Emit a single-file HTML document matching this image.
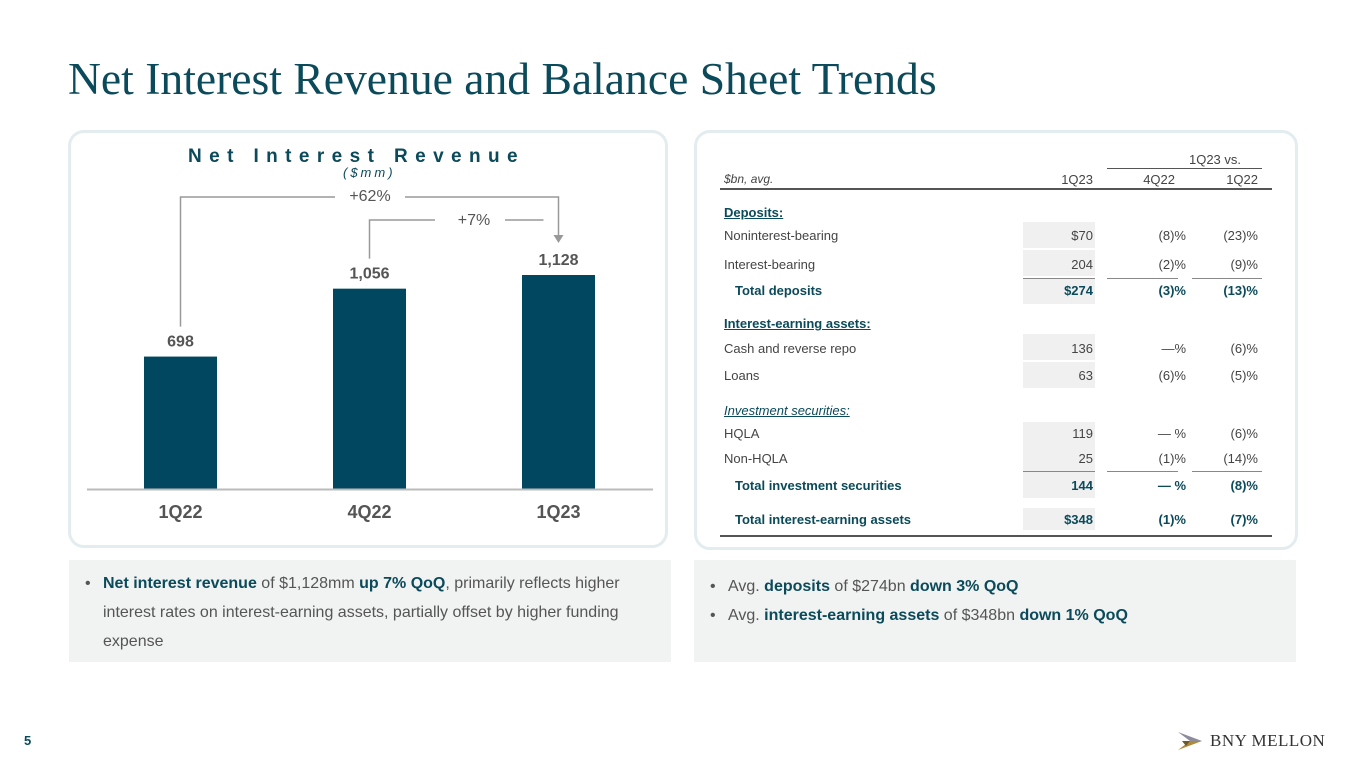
<!DOCTYPE html>
<html><head><meta charset="utf-8"><style>
body{margin:0;width:1365px;height:768px;background:#fff;position:relative;overflow:hidden;font-family:"Liberation Sans",sans-serif}
.a{position:absolute}
.t{position:absolute;font-size:13px;color:#444;white-space:nowrap}
.r{text-align:right}
.b{font-weight:bold;color:#0b4a5a}
.u{text-decoration:underline;color:#0b4a5a;font-weight:bold}
.sh{position:absolute;left:1023px;width:72px;height:26px;background:#f0f0f0}
.ln{position:absolute;height:1px;background:#888}
</style></head><body>
<div class="a" style="left:68px;top:52px;font-family:'Liberation Serif',serif;font-size:45.6px;color:#0b4a5a;white-space:nowrap">Net Interest Revenue and Balance Sheet Trends</div>
<div class="a" style="left:68px;top:130px;width:600px;height:418px;border:3px solid #e3ecee;border-radius:16px;box-sizing:border-box"></div>
<div class="a" style="left:694px;top:130px;width:604px;height:420px;border:3px solid #e3ecee;border-radius:16px;box-sizing:border-box"></div>
<div class="a" style="left:188px;top:146px;font-size:19px;font-weight:bold;letter-spacing:7.4px;color:#0b4a5a;white-space:nowrap">Net Interest Revenue</div>
<div class="a" style="left:343px;top:165px;font-size:13px;font-style:italic;letter-spacing:3px;color:#0b4a5a">($mm)</div>
<svg class="a" style="left:0;top:0" width="700" height="560" id="chart"></svg>
<script>
const categories=["1Q22","4Q22","1Q23"];
const values=[698,1056,1128];
const labels=["698","1,056","1,128"];
const svg=document.getElementById('chart');const NS="http://www.w3.org/2000/svg";
const base=489,scale=214/1128;
const y=v=>base-v*scale;const x=i=>144+i*189;
function mk(t,a,txt){const e=document.createElementNS(NS,t);for(const k in a)e.setAttribute(k,a[k]);if(txt)e.textContent=txt;svg.appendChild(e);return e;}
categories.forEach((c,i)=>{
 const r=mk('rect',{x:x(i),y:y(values[i]),width:73,height:values[i]*scale,fill:'#00475f'});
 
 
 const l=mk('text',{x:x(i)+36.5,y:y(values[i])-10,'text-anchor':'middle','font-size':16,'font-weight':'bold',fill:'#555'},labels[i]);
 
 
 const cl=mk('text',{x:x(i)+36.5,y:518,'text-anchor':'middle','font-size':18,'font-weight':'bold',fill:'#555'},c);
 
 
});
const ax=mk('line',{x1:87,x2:653,y1:489.5,y2:489.5,stroke:'#bbb','stroke-width':2});


const c1=x(0)+36.5,c2=x(1)+36.5,c3=x(2)+36.5;
mk('polyline',{points:`${c1},${y(values[0])-30} ${c1},197 335,197`,fill:'none',stroke:'#999','stroke-width':1.5});
mk('polyline',{points:`405,197 ${c3},197 ${c3},${y(values[2])-40}`,fill:'none',stroke:'#999','stroke-width':1.5});
mk('polygon',{points:`${c3-5},${y(values[2])-40} ${c3+5},${y(values[2])-40} ${c3},${y(values[2])-32}`,fill:'#999'});
mk('text',{x:370,y:201,'text-anchor':'middle','font-size':16,fill:'#555'},'+62%');
mk('polyline',{points:`${c2},${y(values[1])-30} ${c2},220 435,220`,fill:'none',stroke:'#999','stroke-width':1.5});
mk('polyline',{points:`505,220 ${c3-15},220`,fill:'none',stroke:'#999','stroke-width':1.5});
mk('text',{x:474,y:225,'text-anchor':'middle','font-size':16,fill:'#555'},'+7%');
</script>
<div>
<div class="t" style="left:1180px;top:152px;width:70px;text-align:center">1Q23 vs.</div>
<div class="ln" style="left:1107px;top:168px;width:155px;background:#555"></div>
<div class="t" style="left:724px;top:172px;font-size:12px;font-style:italic">$bn, avg.</div>
<div class="t r" style="left:1013px;top:172px;width:80px">1Q23</div>
<div class="t r" style="left:1100px;top:172px;width:75px">4Q22</div>
<div class="t r" style="left:1180px;top:172px;width:78px">1Q22</div>
<div class="ln" style="left:720px;top:188px;width:552px;background:#555;height:2px"></div>
<div class="t u" style="left:724px;top:205px">Deposits:</div>
<div class="sh" style="top:222px"></div><div class="sh" style="top:250px"></div><div class="sh" style="top:278px"></div>
<div class="sh" style="top:334px"></div><div class="sh" style="top:362px"></div>
<div class="sh" style="top:422px"></div><div class="sh" style="top:446px"></div><div class="sh" style="top:472px"></div><div class="sh" style="top:508px;height:22px"></div>
<div class="t" style="left:724px;top:228px">Noninterest-bearing</div><div class="t r" style="left:1013px;top:228px;width:80px">$70</div><div class="t r" style="left:1100px;top:228px;width:86px">(8)%</div><div class="t r" style="left:1180px;top:228px;width:78px">(23)%</div>
<div class="t" style="left:724px;top:257px">Interest-bearing</div><div class="t r" style="left:1013px;top:257px;width:80px">204</div><div class="t r" style="left:1100px;top:257px;width:86px">(2)%</div><div class="t r" style="left:1180px;top:257px;width:78px">(9)%</div>
<div class="ln" style="left:1023px;top:278px;width:72px"></div><div class="ln" style="left:1107px;top:278px;width:71px"></div><div class="ln" style="left:1192px;top:278px;width:70px"></div>
<div class="t b" style="left:735px;top:283px">Total deposits</div><div class="t r b" style="left:1013px;top:283px;width:80px">$274</div><div class="t r b" style="left:1100px;top:283px;width:86px">(3)%</div><div class="t r b" style="left:1180px;top:283px;width:78px">(13)%</div>
<div class="t u" style="left:724px;top:316px">Interest-earning assets:</div>
<div class="t" style="left:724px;top:341px">Cash and reverse repo</div><div class="t r" style="left:1013px;top:341px;width:80px">136</div><div class="t r" style="left:1100px;top:341px;width:86px">—%</div><div class="t r" style="left:1180px;top:341px;width:78px">(6)%</div>
<div class="t" style="left:724px;top:368px">Loans</div><div class="t r" style="left:1013px;top:368px;width:80px">63</div><div class="t r" style="left:1100px;top:368px;width:86px">(6)%</div><div class="t r" style="left:1180px;top:368px;width:78px">(5)%</div>
<div class="t" style="left:724px;top:403px;font-style:italic;text-decoration:underline;color:#0b4a5a">Investment securities:</div>
<div class="t" style="left:724px;top:426px">HQLA</div><div class="t r" style="left:1013px;top:426px;width:80px">119</div><div class="t r" style="left:1100px;top:426px;width:86px">— %</div><div class="t r" style="left:1180px;top:426px;width:78px">(6)%</div>
<div class="t" style="left:724px;top:451px">Non-HQLA</div><div class="t r" style="left:1013px;top:451px;width:80px">25</div><div class="t r" style="left:1100px;top:451px;width:86px">(1)%</div><div class="t r" style="left:1180px;top:451px;width:78px">(14)%</div>
<div class="ln" style="left:1023px;top:471px;width:72px"></div><div class="ln" style="left:1107px;top:471px;width:71px"></div><div class="ln" style="left:1192px;top:471px;width:70px"></div>
<div class="t b" style="left:735px;top:478px">Total investment securities</div><div class="t r b" style="left:1013px;top:478px;width:80px">144</div><div class="t r b" style="left:1100px;top:478px;width:86px">— %</div><div class="t r b" style="left:1180px;top:478px;width:78px">(8)%</div>
<div class="t b" style="left:735px;top:512px">Total interest-earning assets</div><div class="t r b" style="left:1013px;top:512px;width:80px">$348</div><div class="t r b" style="left:1100px;top:512px;width:86px">(1)%</div><div class="t r b" style="left:1180px;top:512px;width:78px">(7)%</div>
<div class="ln" style="left:720px;top:535px;width:552px;background:#555;height:2px"></div>
</div>
<div class="a" style="left:69px;top:560px;width:602px;height:102px;background:#f1f2f2;font-size:16px;color:#555;line-height:29px;box-sizing:border-box;padding:9px 18px 0 34px">
<span style="position:absolute;left:16px">•</span><b style="color:#0b4a5a">Net interest revenue</b> of $1,128mm <b style="color:#0b4a5a">up 7% QoQ</b>, primarily reflects higher interest rates on interest-earning assets, partially offset by higher funding expense</div>
<div class="a" style="left:694px;top:560px;width:602px;height:102px;background:#f1f2f2;font-size:16px;color:#555;line-height:29px;box-sizing:border-box;padding:12px 18px 0 34px">
<div><span style="position:absolute;left:16px">•</span>Avg. <b style="color:#0b4a5a">deposits</b> of $274bn <b style="color:#0b4a5a">down 3% QoQ</b></div>
<div><span style="position:absolute;left:16px">•</span>Avg. <b style="color:#0b4a5a">interest-earning assets</b> of $348bn <b style="color:#0b4a5a">down 1% QoQ</b></div></div>
<div class="a" style="left:24px;top:733px;font-size:13px;font-weight:bold;color:#0b4a5a">5</div>
<div class="a" style="left:1176px;top:730px;width:170px;height:22px">
<svg width="28" height="22" style="position:absolute;left:0;top:0"><polygon points="2,2 26,11 14,11" fill="#8c8c9c"/><polygon points="2,20 26,11 14,11" fill="#b08a3a"/><polygon points="6,11 14,11 10,16" fill="#6b5a2a"/></svg>
<div style="position:absolute;left:34px;top:1px;font-family:'Liberation Serif',serif;font-size:17px;color:#333;letter-spacing:0.5px;white-space:nowrap">BNY MELLON</div></div>
</body></html>
